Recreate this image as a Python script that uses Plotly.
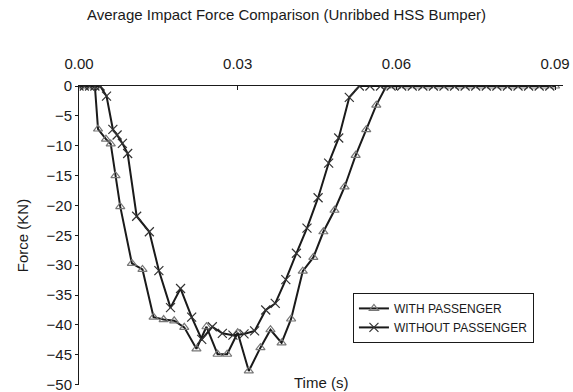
import plotly.graph_objects as go

# Time (s) and average impact force (kN) for the unribbed HSS bumper
t_with = [0.000, 0.001, 0.002, 0.003, 0.0036, 0.0051, 0.0060, 0.0069, 0.0078,
          0.0100, 0.0120, 0.0141, 0.0160, 0.0180, 0.0199, 0.0222, 0.0241,
          0.0262, 0.0280, 0.0300, 0.0321, 0.0343, 0.0362, 0.0383, 0.0401,
          0.0423, 0.0443, 0.0462, 0.0483, 0.0502, 0.0523, 0.0543, 0.0562,
          0.0581, 0.060, 0.062, 0.064, 0.066, 0.068, 0.070, 0.072, 0.074,
          0.076, 0.078, 0.080, 0.082, 0.084, 0.086, 0.088, 0.090]
f_with = [0, 0, 0, 0, -7.2, -8.9, -9.7, -15.0, -20.2,
          -29.7, -30.7, -38.7, -39.1, -39.3, -40.4, -44.0, -40.3,
          -44.9, -44.9, -41.3, -47.7, -43.8, -40.8, -43.0, -39.0,
          -31.0, -28.7, -24.4, -20.8, -16.9, -11.6, -7.3, -3.2,
          0, 0, 0, 0, 0, 0, 0, 0, 0,
          0, 0, 0, 0, 0, 0, 0, 0]

t_without = [0.000, 0.001, 0.002, 0.003, 0.004, 0.0052, 0.0064, 0.0072, 0.0082,
             0.0092, 0.0109, 0.0133, 0.0151, 0.0173, 0.0192, 0.0213, 0.0232,
             0.0252, 0.0271, 0.0291, 0.0312, 0.0332, 0.0353, 0.0371, 0.0391,
             0.0411, 0.0431, 0.0452, 0.0472, 0.0491, 0.0511, 0.0530, 0.055,
             0.057, 0.059, 0.061, 0.063, 0.065, 0.067, 0.069, 0.071, 0.073,
             0.075, 0.077, 0.079, 0.081, 0.083, 0.085, 0.087, 0.089]
f_without = [0, 0, 0, 0, 0, -1.7, -7.25, -8.2, -9.6,
             -11.3, -21.8, -24.4, -30.9, -37.1, -33.9, -38.7, -42.4,
             -40.3, -41.4, -41.7, -41.5, -41.0, -37.5, -36.4, -32.4,
             -28.0, -23.8, -18.7, -12.9, -8.7, -1.9, 0, 0,
             0, 0, 0, 0, 0, 0, 0, 0, 0,
             0, 0, 0, 0, 0, 0, 0, 0]

x_ticks = [0.00, 0.03, 0.06, 0.09]
x_tick_text = ["0.00", "0.03", "0.06", "0.09"]
y_ticks = [0, -5, -10, -15, -20, -25, -30, -35, -40, -45, -50]

FONT = "Liberation Sans, Arial, sans-serif"
TXT = "#1a1a1a"

fig = go.Figure()
fig.add_trace(go.Scatter(
    x=t_with, y=f_with, mode="lines+markers", name="WITH PASSENGER",
    line=dict(color="#1a1a1a", width=2),
    marker=dict(symbol="triangle-up-open", size=8, color="#777777",
                line=dict(width=1.2, color="#777777")),
))
fig.add_trace(go.Scatter(
    x=t_without, y=f_without, mode="lines+markers", name="WITHOUT PASSENGER",
    line=dict(color="#1a1a1a", width=2),
    marker=dict(symbol="x-thin-open", size=9, color="#333333",
                line=dict(width=1.2, color="#333333")),
))

fig.update_layout(
    width=573, height=392,
    margin=dict(l=79, r=10, t=86, b=7),
    paper_bgcolor="white", plot_bgcolor="white",
    font=dict(family=FONT, color=TXT, size=12),
    title=dict(text="Average Impact Force Comparison (Unribbed HSS Bumper)",
               x=0.5, xanchor="center", y=0.962, yanchor="middle",
               font=dict(size=15, color=TXT)),
    xaxis=dict(
        side="top", range=[0, 0.0915], tickvals=x_ticks, ticktext=x_tick_text,
        showgrid=False, zeroline=False, showline=True, linecolor="#1a1a1a",
        linewidth=1, ticks="inside", ticklen=4, tickcolor="#1a1a1a",
        tickfont=dict(size=15, color=TXT), ticklabelstandoff=10,
        automargin=False,
    ),
    yaxis=dict(
        range=[-50.05, 0], tickvals=y_ticks, showgrid=False, zeroline=False,
        showline=True, linecolor="#1a1a1a", linewidth=1, ticks="outside",
        ticklen=3, tickcolor="#1a1a1a", tickfont=dict(size=15, color=TXT),
        ticklabeloverflow="allow", automargin=False,
        title=dict(text="Force (KN)", font=dict(size=15, color=TXT), standoff=14),
    ),
    legend=dict(
        x=0.566, y=0.308, xanchor="left", yanchor="top",
        bgcolor="white", bordercolor="#1a1a1a", borderwidth=1,
        font=dict(size=12, color=TXT), itemwidth=30, tracegroupgap=0,
    ),
    annotations=[dict(
        text="Time (s)", xref="paper", yref="paper", x=0.5, y=0.01,
        xanchor="center", yanchor="middle", showarrow=False,
        font=dict(size=15, color=TXT),
    )],
)

fig.write_html("out.html")
